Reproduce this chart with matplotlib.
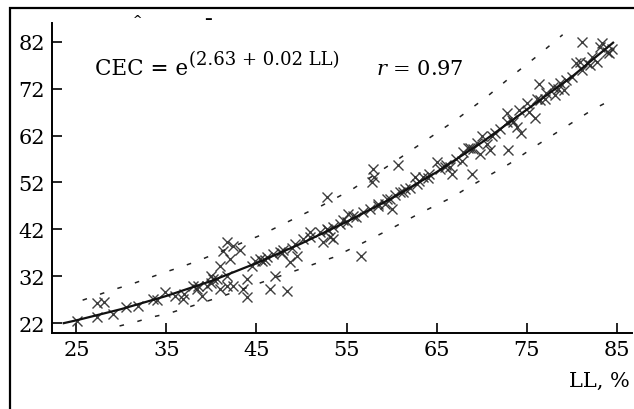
import numpy as np
import matplotlib
matplotlib.use("Agg")
import matplotlib.pyplot as plt
from matplotlib.patches import Rectangle

plt.rcParams['font.family'] = 'DejaVu Serif'
plt.rcParams['mathtext.fontset'] = 'dejavuserif'

# measured points (LL, %  /  CEC)
ll = [25.1, 27.3, 27.3, 28.1, 29.1, 31.8, 33.5, 36.0, 37.0, 38.0,
      39.0, 38.4, 39.5, 39.9, 40.2, 40.6, 41.0, 41.0, 41.7, 41.7,
      41.3, 41.7, 42.4, 43.2, 42.1, 42.4, 43.5, 44.0, 44.0, 44.8,
      45.4, 46.2, 46.8, 47.6, 47.1, 46.5, 48.4, 48.7, 49.5, 50.2,
      50.9, 52.1, 52.8, 53.5, 53.2, 52.4, 52.8, 54.6, 55.7, 56.8,
      57.6, 53.5, 56.6, 57.9, 58.1, 57.8, 60.7, 58.5, 59.5, 60.9,
      62.0, 62.8, 63.5, 65.1, 65.9, 66.7, 66.5, 67.2, 67.9, 68.5,
      68.7, 69.5, 70.1, 71.2, 72.0, 70.9, 72.9, 68.9, 72.8, 72.8,
      73.4, 73.9, 74.4, 74.2, 75.3, 75.0, 76.1, 77.2, 76.4, 77.9,
      78.7, 79.2, 79.4, 80.5, 80.9, 81.7, 81.2, 82.3, 82.8, 81.2,
      83.1, 83.9, 84.2, 83.4, 54.3, 55.2, 60.4, 61.5, 64.2, 65.4,
      62.6, 59.3, 60.0, 49.3, 48.0, 45.6, 34.9, 36.9, 69.8, 70.6,
      67.8, 77.0, 78.1, 75.9, 44.5, 46.0, 47.8, 49.0, 51.0, 53.0,
      55.0, 56.0, 58.5, 59.8, 61.3, 63.0, 64.0, 66.0, 69.0, 71.5,
      73.5, 76.5, 78.5, 80.0, 82.0, 84.5, 30.5, 34.0, 38.5, 40.0]
cec = [22.4, 23.3, 26.3, 26.5, 23.9, 25.6, 27.1, 27.7, 28.2, 29.9,
       27.7, 29.2, 29.9, 32.0, 31.4, 31.4, 34.1, 29.2, 32.0, 29.9,
       37.3, 39.4, 38.4, 37.7, 35.6, 29.9, 29.2, 31.4, 27.5, 35.2,
       35.6, 36.0, 36.7, 37.1, 32.0, 29.2, 28.8, 35.0, 36.3, 39.9,
       41.4, 41.4, 42.0, 42.6, 40.3, 39.2, 49.0, 44.1, 44.8, 45.8,
       46.3, 39.9, 36.3, 54.8, 53.1, 52.2, 55.8, 46.9, 48.4, 49.9,
       50.9, 51.6, 53.1, 56.3, 55.2, 53.7, 55.4, 56.9, 58.4, 59.4,
       59.4, 60.5, 61.8, 61.8, 63.3, 59.0, 59.0, 53.7, 66.9, 64.8,
       65.4, 63.9, 62.6, 67.5, 67.1, 69.0, 69.7, 71.1, 72.9, 72.4,
       73.3, 71.8, 73.9, 77.5, 77.7, 77.5, 76.0, 78.8, 77.7, 82.0,
       80.9, 79.9, 79.7, 81.8, 43.1, 45.2, 49.4, 50.5, 53.7, 54.8,
       53.1, 47.3, 46.3, 38.8, 37.7, 35.2, 28.6, 27.1, 58.0, 60.1,
       56.5, 69.7, 70.7, 65.8, 34.2, 35.5, 37.0, 38.0, 40.3, 41.8,
       43.5, 44.6, 47.5, 48.5, 50.0, 52.3, 53.0, 55.8, 59.2, 62.5,
       64.8, 69.5, 72.0, 74.5, 77.0, 80.5, 25.4, 27.0, 30.0, 30.5]

# regression curve
fit_ll = [23.6, 25, 30, 35, 40, 45, 50, 55, 60, 65, 70, 75, 80, 84.6]
fit_cec = [22.0, 22.6, 25.0, 27.8, 31.0, 34.8, 39.0, 43.6, 48.6, 54.2, 60.5, 67.5, 74.5, 81.8]

# confidence band limits
up_ll = [25.7, 29.2, 31.1, 33.0, 34.9, 36.5, 38.4, 45.4, 50.6, 52.3, 55.6, 60.0, 66.2, 67.6, 70.6, 73.3, 76.2, 79.0]
up_cec = [26.9, 29.2, 30.3, 31.6, 32.9, 33.9, 35.2, 40.7, 45.6, 47.1, 50.5, 56.0, 64.1, 66.0, 70.3, 74.6, 79.0, 83.5]
lo_ll = [29.8, 31.5, 33.4, 35.3, 37.1, 41.0, 45.0, 49.8, 51.7, 53.5, 56.7, 60.0, 63.1, 66.7, 68.3, 73.1, 76.1, 79.2, 82.3, 84.6]
lo_cec = [21.4, 22.2, 23.3, 24.1, 25.2, 27.6, 30.3, 33.5, 34.8, 36.0, 39.0, 42.2, 45.4, 48.8, 50.7, 56.0, 59.9, 63.7, 67.5, 69.8]

xticks = [25, 35, 45, 55, 65, 75, 85]
yticks = [22, 32, 42, 52, 62, 72, 82]

fig = plt.figure(figsize=(6.34, 4.10), dpi=100)
ax = fig.add_axes([52/634, 76/410, 580/634, 310/410])

ax.plot(ll, cec, 'x', color='#2a2a2a', ms=7.5, mew=1.0, alpha=0.9)
ax.plot(fit_ll, fit_cec, '-', color='#111111', lw=1.6)
ax.plot(up_ll, up_cec, color='#222222', lw=1.1, dashes=(3, 9))
ax.plot(lo_ll, lo_cec, color='#222222', lw=1.1, dashes=(3, 9))

ax.set_xlim(22.3, 86.7)
ax.set_ylim(19.9, 86)
ax.set_xticks(xticks)
ax.set_yticks(yticks)
ax.tick_params(direction='in', length=7, width=1.2, labelsize=15, pad=5)
for s in ['top', 'right']:
    ax.spines[s].set_visible(False)
for s in ['left', 'bottom']:
    ax.spines[s].set_linewidth(1.4)

eq = fig.text(95/634, 1 - 75/410, 'CEC = e', fontsize=15.5, va='baseline')
fig.canvas.draw()
x1 = fig.transFigure.inverted().transform(eq.get_window_extent().p1)[0]
fig.text(x1 + 1/634, 1 - 65/410, '(2.63 + 0.02 LL)', fontsize=13, va='baseline')
fig.text(376/634, 1 - 75/410, r'$r$ = 0.97', fontsize=15, va='baseline')
fig.text(630/634, 1 - 387/410, 'LL, %', fontsize=15, va='baseline', ha='right')

# bits of a clipped heading above the plot
fig.text(138/634, 1 - 19/410, '^', fontsize=8, fontweight='bold', ha='center', va='center')
fig.text(208/634, 1 - 19/410, '–', fontsize=11, fontweight='bold', ha='center', va='center')

# outer frame of the figure
fig.patches.append(Rectangle((10/634, -0.1), 2, (410 - 9)/410 + 0.1,
                             transform=fig.transFigure, fill=False,
                             edgecolor='black', lw=1.6))

fig.savefig('out.png', dpi=100)
